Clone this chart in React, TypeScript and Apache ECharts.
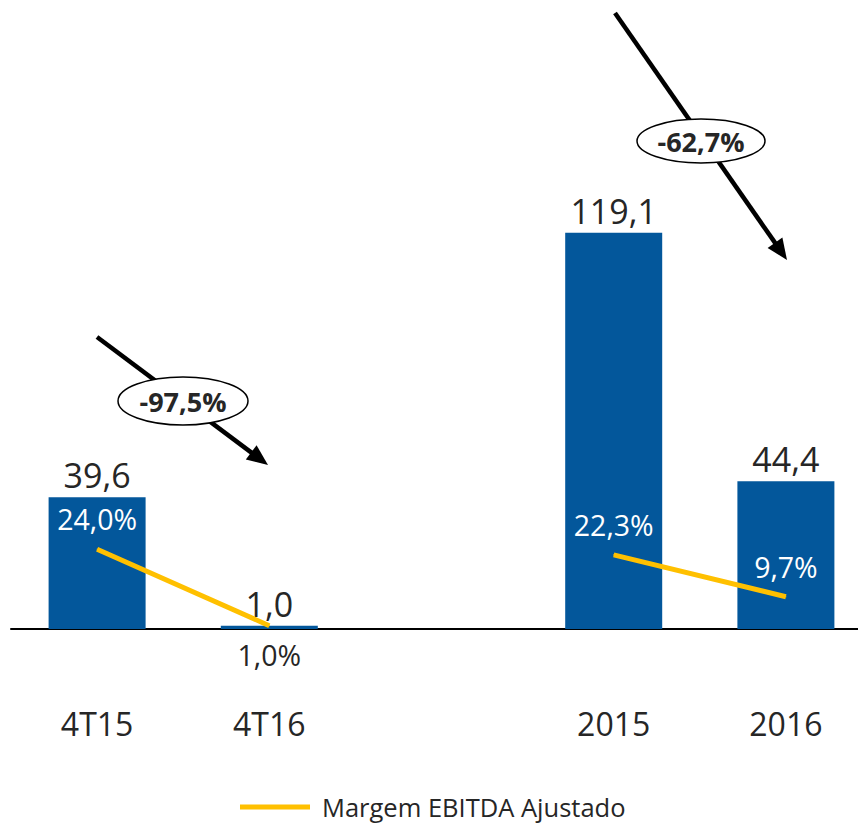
import React, { useEffect, useRef } from "react";
import * as echarts from "echarts";

const categories = ["4T15", "4T16", "", "2015", "2016"];
const ebitdaValues: (number | null)[] = [39.6, 1.0, null, 119.1, 44.4];
const marginValues: (number | null)[] = [24.0, 1.0, null, 22.3, 9.7];
const marginLabelBelow = [false, true, false, false, false];
const lineSeriesName = "Margem EBITDA Ajustado";
const changeLabels = ["-97,5%", "-62,7%"];

const BLUE = "#03579B";
const YELLOW = "#FFC000";
const TEXT = "#262626";
const FONT = '"Open Sans", "Noto Sans", sans-serif';

const fmt = (v: number) => v.toFixed(1).replace(".", ",");

function arrow(x1: number, y1: number, x2: number, y2: number) {
  const dx = x2 - x1;
  const dy = y2 - y1;
  const len = Math.sqrt(dx * dx + dy * dy);
  const ux = dx / len;
  const uy = dy / len;
  const px = -uy;
  const py = ux;
  const headLen = 21;
  const headHalf = 9;
  const bx = x2 - ux * headLen;
  const by = y2 - uy * headLen;
  return [
    {
      type: "line",
      shape: { x1, y1, x2: bx + ux * 2, y2: by + uy * 2 },
      style: { stroke: "#000", lineWidth: 4.5 },
      z: 10,
    },
    {
      type: "polygon",
      shape: {
        points: [
          [x2, y2],
          [bx + px * headHalf, by + py * headHalf],
          [bx - px * headHalf, by - py * headHalf],
        ],
      },
      style: { fill: "#000" },
      z: 10,
    },
  ];
}

function badge(cx: number, cy: number, rx: number, ry: number, text: string) {
  return [
    {
      type: "ellipse",
      shape: { cx, cy, rx, ry },
      style: { fill: "#fff", stroke: "#000", lineWidth: 1.5 },
      z: 11,
    },
    {
      type: "text",
      x: cx,
      y: cy,
      style: {
        text,
        fill: TEXT,
        fontSize: 27,
        fontWeight: "bold",
        fontFamily: FONT,
        align: "center",
        verticalAlign: "middle",
      },
      z: 12,
    },
  ];
}

export default function App() {
  const ref = useRef<HTMLDivElement>(null);
  useEffect(() => {
    if (!ref.current) return;
    const chart = echarts.init(ref.current, undefined, { renderer: "svg" });
    chart.setOption({
      animation: false,
      backgroundColor: "#fff",
      grid: { left: 11, right: 0, top: 130, bottom: 197 },
      xAxis: {
        type: "category",
        data: categories,
        axisTick: { show: false },
        axisLine: { lineStyle: { color: "#000", width: 2 } },
        axisLabel: {
          margin: 78,
          fontSize: 32,
          fontFamily: FONT,
          color: TEXT,
          interval: 0,
        },
      },
      yAxis: {
        type: "value",
        min: 0,
        max: 150,
        show: false,
        splitLine: { show: false },
      },
      legend: {
        data: [lineSeriesName],
        left: 235,
        top: 789,
        icon: "rect",
        itemWidth: 70,
        itemHeight: 5,
        textStyle: {
          fontSize: 25.5,
          fontFamily: FONT,
          color: TEXT,
          padding: [0, 0, 0, 7],
        },
      },
      series: [
        {
          name: "EBITDA",
          type: "bar",
          data: ebitdaValues.map((v) => (v == null ? "-" : v)),
          barWidth: 97,
          itemStyle: { color: BLUE },
          label: {
            show: true,
            position: "top",
            distance: 5,
            fontSize: 34,
            fontFamily: FONT,
            color: TEXT,
            formatter: (p: any) => fmt(p.value),
          },
        },
        {
          name: lineSeriesName,
          type: "line",
          data: marginValues.map((v, i) =>
            v == null
              ? "-"
              : {
                  value: v,
                  label: marginLabelBelow[i]
                    ? { position: "bottom", color: TEXT, distance: 14 }
                    : { position: "top", color: "#fff", distance: 15 },
                }
          ),
          connectNulls: false,
          symbol: "circle",
          symbolSize: 1,
          itemStyle: { color: YELLOW },
          lineStyle: { color: YELLOW, width: 5 },
          z: 5,
          label: {
            show: true,
            fontSize: 28.5,
            fontFamily: FONT,
            formatter: (p: any) => fmt(p.value) + "%",
          },
        },
      ],
      graphic: [
        ...arrow(97, 337, 268, 465),
        ...arrow(615, 13, 787, 260),
        ...badge(183, 401, 65, 24, changeLabels[0]),
        ...badge(701, 141, 64, 22, changeLabels[1]),
      ],
    });
    return () => chart.dispose();
  }, []);
  return (
    <div
      ref={ref}
      style={{ position: "fixed", left: 0, top: 0, width: 872, height: 826 }}
    />
  );
}
